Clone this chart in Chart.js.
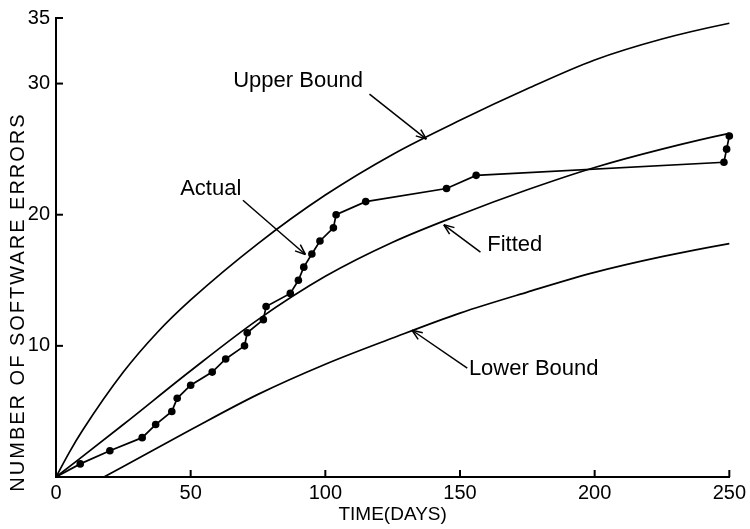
<!DOCTYPE html>
<html>
<head>
<meta charset="utf-8">
<script src="https://cdn.jsdelivr.net/npm/chart.js@4.4.0/dist/chart.umd.min.js"></script>
<style>
html,body{margin:0;padding:0;background:#fff;}
#wrap{width:750px;height:529px;}
</style>
</head>
<body>
<div id="wrap"><canvas id="c" width="750" height="529"></canvas></div>
<script>
// ---- data ----
const upperX  = [0, 5, 10, 25, 37.5, 50, 75, 100, 125, 150, 175, 200, 225, 250, 254];
const upperY  = [0, 1.9, 3.6, 8.0, 11.0, 13.5, 17.8, 21.5, 24.6, 27.2, 29.6, 31.8, 33.4, 34.6, 34.75];
const fittedX = [0, 25, 50, 75, 100, 125, 150, 175, 200, 225, 250, 254];
const fittedY = [0, 4.0, 8.1, 12.0, 15.3, 17.9, 20.0, 21.9, 23.6, 25.0, 26.2, 26.35];
const lowerX  = [17.8, 25, 50, 75, 100, 125, 150, 175, 200, 225, 250, 256];
const lowerY  = [0, 0.8, 3.6, 6.3, 8.6, 10.6, 12.5, 14.1, 15.6, 16.8, 17.8, 18.0];
const actualX = [0, 9, 20, 32, 37, 43, 45, 50, 58, 63, 70, 71, 77, 78, 87, 90, 92, 95, 98, 103, 104, 115, 145, 156, 248, 249, 250];
const actualY = [0, 1, 2, 3, 4, 5, 6, 7, 8, 9, 10, 11, 12, 13, 14, 15, 16, 17, 18, 19, 20, 21, 22, 23, 24, 25, 26];
const xTicks = [0, 50, 100, 150, 200, 250];
const yTicks = [10, 20, 30, 35];
const xTitle = 'TIME(DAYS)';
const yTitle = 'NUMBER OF SOFTWARE ERRORS';
const annTexts = ['Upper Bound', 'Actual', 'Fitted', 'Lower Bound'];

// annotation placement (in axis units)
const annPlace = [
  {tx: 65.8,  ty: 30.2,  fx: 116.4, fy: 29.2,  ax: 137.5, ay: 25.77},
  {tx: 46.1,  ty: 21.95, fx: 69.4,  fy: 21.1,  ax: 92.6,  ay: 16.97},
  {tx: 160.1, ty: 17.7,  fx: 157.6, fy: 17.15, ax: 144.0, ay: 19.23},
  {tx: 153.3, ty: 8.27,  fx: 152.7, fy: 8.3,   ax: 132.2, ay: 11.19}
];

const FONT = "'Liberation Sans', Arial, sans-serif";
const pts = (xs, ys) => xs.map((v, i) => ({x: v, y: ys[i]}));

const curveStyle = {
  showLine: true, borderColor: '#000', borderWidth: 1.7, pointRadius: 0,
  cubicInterpolationMode: 'monotone', clip: false, fill: false
};

const deco = {
  id: 'deco',
  afterDraw(chart) {
    const {ctx, chartArea: a, scales: {x, y}} = chart;
    ctx.save();
    ctx.strokeStyle = '#000';
    ctx.fillStyle = '#000';
    ctx.lineCap = 'butt';
    const line = (x1, y1, x2, y2) => { ctx.beginPath(); ctx.moveTo(x1, y1); ctx.lineTo(x2, y2); ctx.stroke(); };
    // inward tick marks
    ctx.lineWidth = 2;
    xTicks.forEach(v => { if (v === 0) return; const px = x.getPixelForValue(v); line(px, a.bottom, px, a.bottom - 7); });
    yTicks.forEach(v => { const py = y.getPixelForValue(v); line(a.left, py, a.left + 7, py); });
    // y title
    ctx.save();
    ctx.font = '20px ' + FONT;
    try { ctx.letterSpacing = '2px'; } catch (e) {}
    ctx.textAlign = 'center';
    ctx.textBaseline = 'middle';
    ctx.translate(18, a.bottom - 175);
    ctx.rotate(-Math.PI / 2);
    ctx.fillText(yTitle, 0, 0);
    ctx.restore();
    // annotations
    ctx.font = '22px ' + FONT;
    ctx.textAlign = 'left';
    ctx.textBaseline = 'middle';
    ctx.lineWidth = 1.5;
    annPlace.forEach((p, i) => {
      ctx.fillText(annTexts[i], x.getPixelForValue(p.tx), y.getPixelForValue(p.ty));
      const x1 = x.getPixelForValue(p.fx), y1 = y.getPixelForValue(p.fy);
      const x2 = x.getPixelForValue(p.ax), y2 = y.getPixelForValue(p.ay);
      line(x1, y1, x2, y2);
      const ang = Math.atan2(y2 - y1, x2 - x1);
      const L = 11, s = 0.38;
      line(x2, y2, x2 - L * Math.cos(ang - s), y2 - L * Math.sin(ang - s));
      line(x2, y2, x2 - L * Math.cos(ang + s), y2 - L * Math.sin(ang + s));
    });
    ctx.restore();
  }
};

new Chart(document.getElementById('c'), {
  type: 'scatter',
  data: {
    datasets: [
      Object.assign({label: 'Upper Bound', data: pts(upperX, upperY)}, curveStyle),
      Object.assign({label: 'Fitted', data: pts(fittedX, fittedY)}, curveStyle),
      Object.assign({label: 'Lower Bound', data: pts(lowerX, lowerY)}, curveStyle),
      {
        label: 'Actual', data: pts(actualX, actualY), showLine: true,
        borderColor: '#000', borderWidth: 1.7, tension: 0,
        pointRadius: c => c.dataIndex === 0 ? 0 : 3.8,
        pointBackgroundColor: '#000', pointBorderColor: '#000', pointBorderWidth: 0,
        clip: false
      }
    ]
  },
  options: {
    responsive: false,
    animation: false,
    devicePixelRatio: 1,
    layout: {padding: {left: 0, right: 18, top: 13, bottom: 0}},
    plugins: {legend: {display: false}, tooltip: {enabled: false}},
    scales: {
      x: {
        type: 'linear', min: 0, max: 250,
        afterBuildTicks: s => { s.ticks = xTicks.map(v => ({value: v})); },
        afterFit: s => { s.height = 52; },
        grid: {display: false, drawTicks: false},
        border: {display: true, color: '#000', width: 2},
        ticks: {color: '#000', font: {family: FONT, size: 20}, padding: 4, maxRotation: 0, autoSkip: false},
        title: {display: true, text: xTitle, color: '#000', font: {family: FONT, size: 19}, padding: {top: 0, bottom: 3}}
      },
      y: {
        type: 'linear', min: 0, max: 35,
        afterBuildTicks: s => { s.ticks = yTicks.map(v => ({value: v})); },
        afterFit: s => { s.width = 56; },
        grid: {display: false, drawTicks: false},
        border: {display: true, color: '#000', width: 2},
        ticks: {color: '#000', font: {family: FONT, size: 20}, padding: 6, autoSkip: false}
      }
    }
  },
  plugins: [deco]
});
</script>
</body>
</html>
